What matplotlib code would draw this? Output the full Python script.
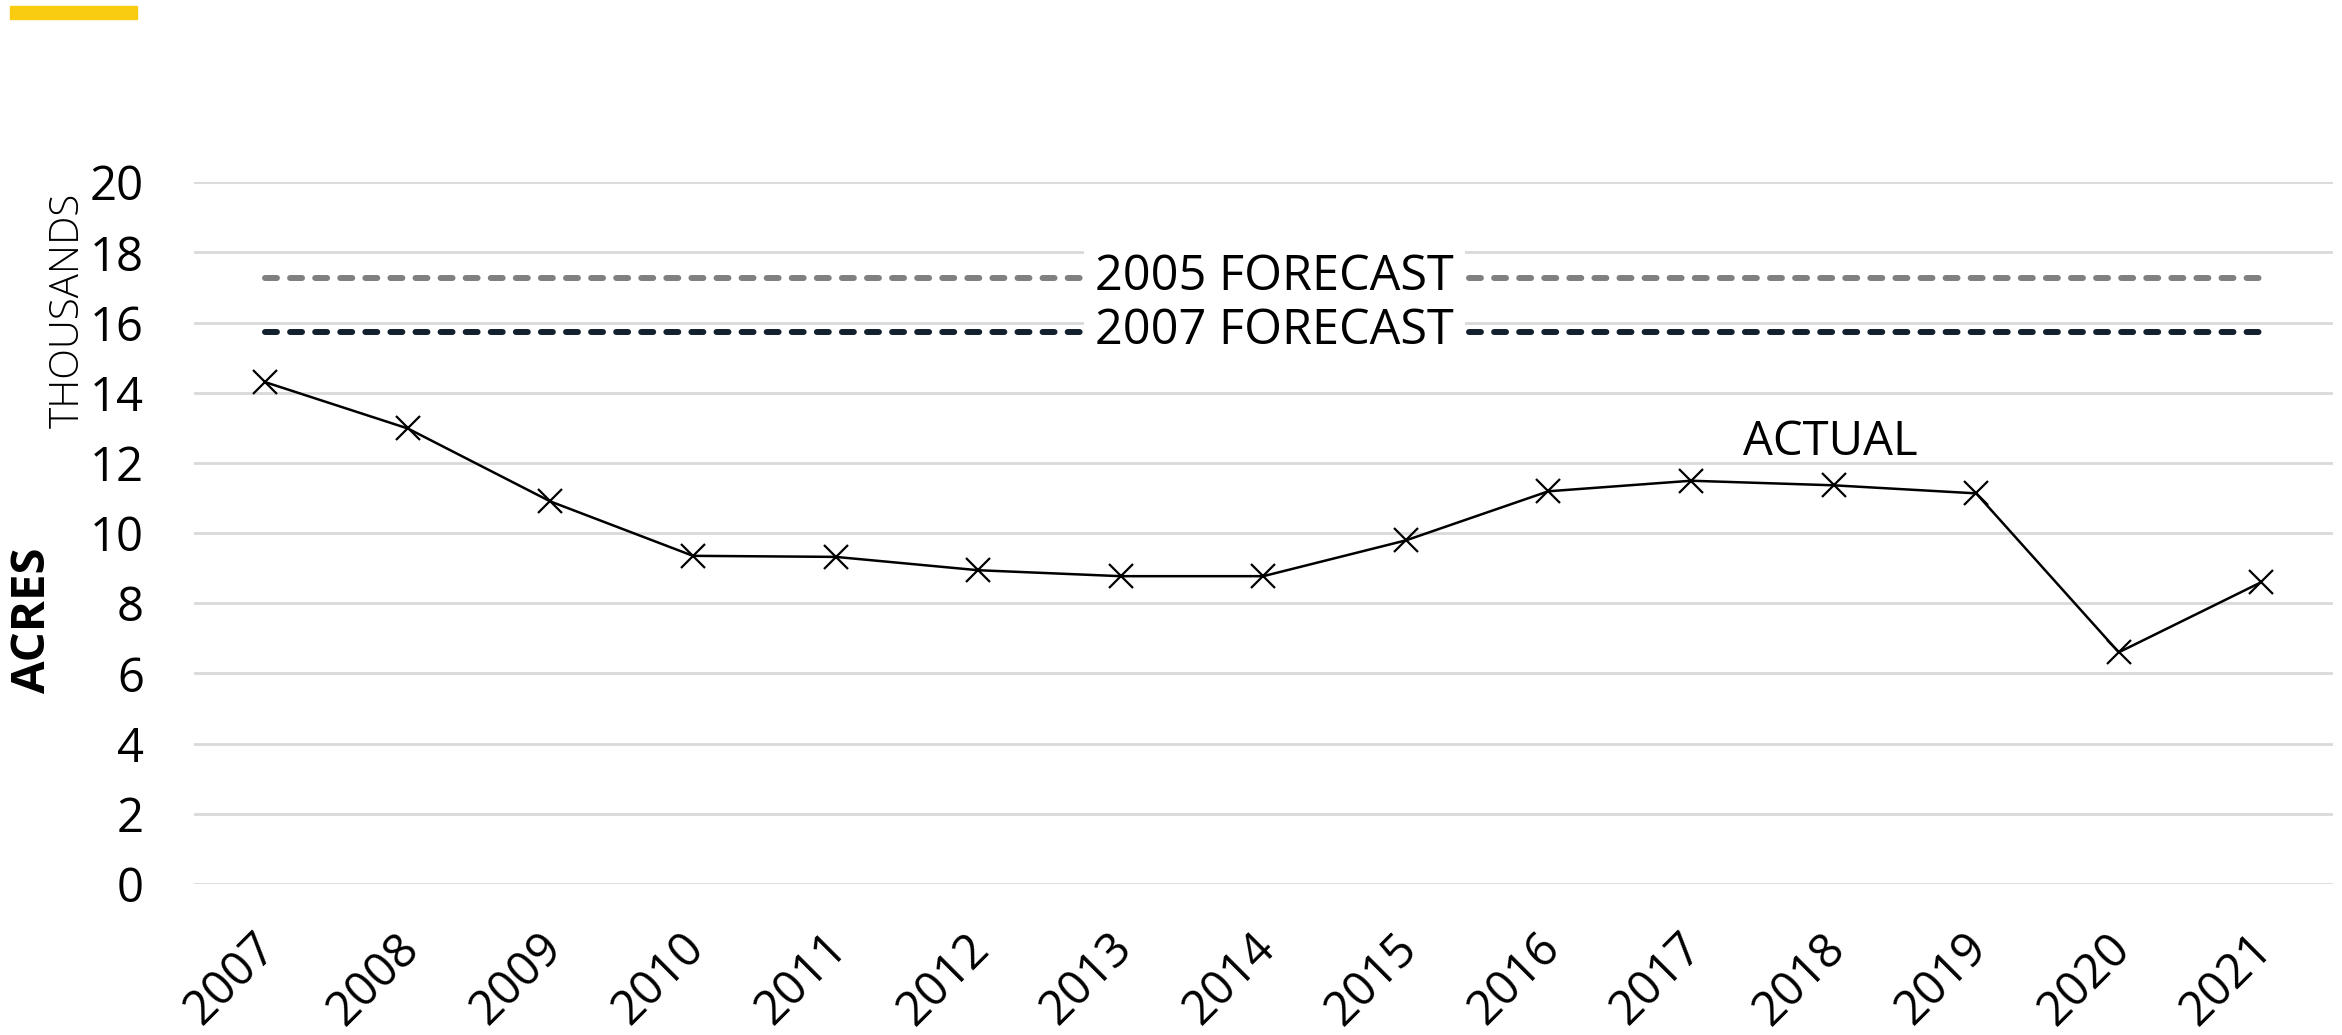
import matplotlib.pyplot as plt
from matplotlib.patches import Rectangle
from matplotlib.transforms import ScaledTranslation

plt.rcParams['font.family'] = ['Open Sans', 'DejaVu Sans']

years = ['2007', '2008', '2009', '2010', '2011', '2012', '2013', '2014',
         '2015', '2016', '2017', '2018', '2019', '2020', '2021']
actual = [14.3, 12.98, 10.9, 9.35, 9.32, 8.94, 8.77, 8.77,
          9.79, 11.19, 11.49, 11.36, 11.13, 6.6, 8.6]
forecast_2005 = 17.28
forecast_2007 = 15.74
yticks = [0, 2, 4, 6, 8, 10, 12, 14, 16, 18, 20]

fig = plt.figure(figsize=(23.42, 10.35), dpi=100)
ax = fig.add_axes([0.0828, 0.146, 0.9132, 0.678])

x = list(range(len(years)))

# forecast lines
ax.plot([x[0], x[-1]], [forecast_2005] * 2, color='#808080', lw=4.3,
        ls=(0, (2.0, 2.2)), dash_capstyle='round', zorder=3)
ax.plot([x[0], x[-1]], [forecast_2007] * 2, color='#13202e', lw=4.3,
        ls=(0, (2.0, 2.2)), dash_capstyle='round', zorder=3)

# actual
ax.plot(x, actual, color='black', lw=1.8, marker='x', markersize=17,
        markeredgewidth=1.6, zorder=4)

box = dict(facecolor='white', edgecolor='none', pad=8)
ax.text(7.08, forecast_2005, '2005 FORECAST', ha='center', va='center',
        fontsize=35, zorder=5, bbox=box)
ax.text(7.08, forecast_2007, '2007 FORECAST', ha='center', va='center',
        fontsize=35, zorder=5, bbox=box)
ax.text(10.98, 12.6, 'ACTUAL', ha='center', va='center', fontsize=34, zorder=5)

ax.set_xlim(-0.5, len(years) - 0.5)
ax.set_ylim(0, 20)
ax.set_yticks(yticks)
ax.set_xticks(x)
ax.set_xticklabels(years, rotation=45, ha='right', rotation_mode='anchor')
ax.tick_params(axis='both', length=0, labelsize=34)
ax.tick_params(axis='y', pad=36)
ax.tick_params(axis='x', pad=29)
shift = ScaledTranslation(-9 / 72, 0, fig.dpi_scale_trans)
for lab in ax.get_xticklabels():
    lab.set_transform(lab.get_transform() + shift)
ax.grid(axis='y', color='#d9d9d9', lw=2)
ax.set_axisbelow(True)
for s in ax.spines.values():
    s.set_visible(False)

fig.text(0.014, 0.401, 'ACRES', rotation=90, ha='center', va='center',
         fontsize=34, fontweight='bold')
fig.text(0.029, 0.70, 'THOUSANDS', rotation=90, ha='center', va='center',
         fontsize=29, fontweight='light')

fig.patches.append(Rectangle((0.0043, 0.9816), 0.0542, 0.0126,
                             transform=fig.transFigure, color='#f9cc12'))

fig.savefig('out.png', dpi=100)
